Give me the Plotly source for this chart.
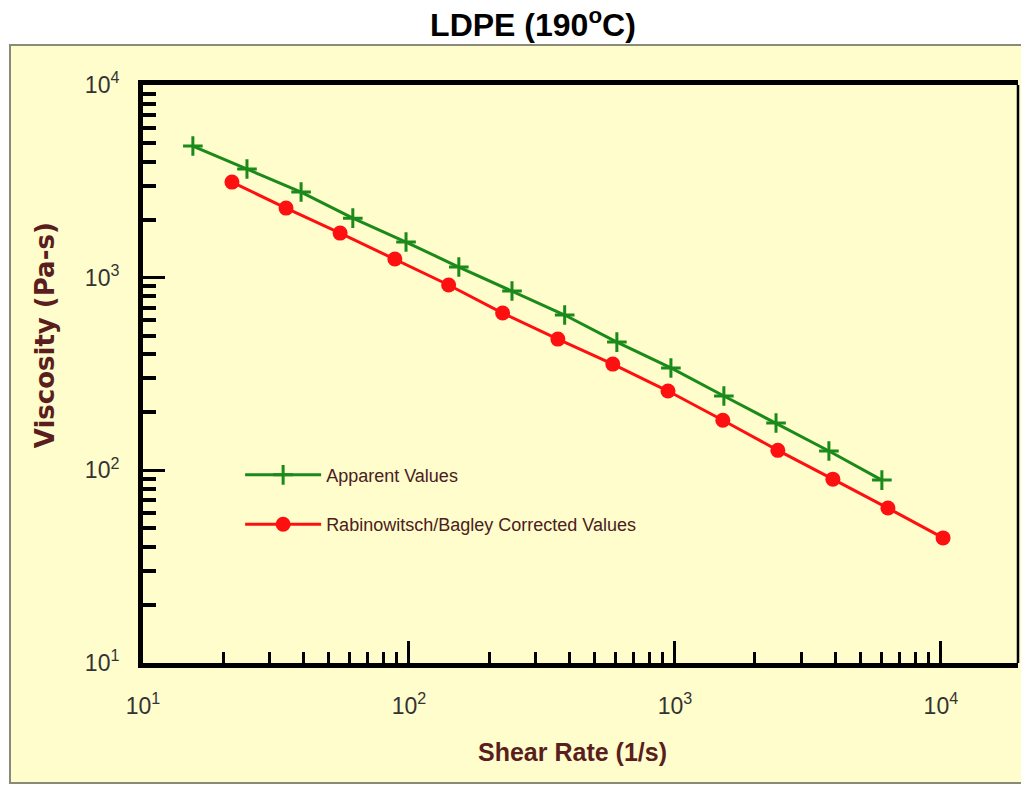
import plotly.graph_objects as go

# Data
shear_apparent = [15.4, 24.6, 39.3, 61.5, 97.5, 154, 244, 385, 605, 966, 1528, 2400, 3793, 6000]
visc_apparent = [4820, 3664, 2782, 2037, 1531, 1135, 852, 640, 463, 340, 243, 176, 126, 89]

shear_corrected = [21.6, 34.5, 55.1, 88.5, 141, 225, 363, 584, 942, 1514, 2438, 3926, 6324, 10190]
visc_corrected = [3133, 2296, 1703, 1249, 916, 655, 480, 356, 258, 182, 127, 90, 63.7, 44.6]

major_vals = [10, 100, 1000, 10000]
major_text = ["10<sup>1</sup>", "10<sup>2</sup>", "10<sup>3</sup>", "10<sup>4</sup>"]
minor_vals = [m * 10 ** k for k in range(1, 4) for m in range(2, 10)]

series_names = ["Apparent Values", "Rabinowitsch/Bagley Corrected Values"]

PANEL = "#FFFDCC"
ARIAL = "Liberation Sans, Arial, sans-serif"
MAROON = "#5a1e1e"

fig = go.Figure()
fig.add_trace(go.Scatter(
    x=shear_apparent, y=visc_apparent, mode="lines+markers", name=series_names[0],
    legendgroup="a",
    line=dict(color="#1a8a1a", width=3),
    marker=dict(symbol="cross-thin", size=14, line=dict(color="#1a8a1a", width=3)),
))
fig.add_trace(go.Scatter(
    x=shear_corrected, y=visc_corrected, mode="lines+markers", name=series_names[1],
    legendgroup="b",
    line=dict(color="#ff1010", width=3),
    marker=dict(symbol="circle", size=15, color="#ff1010"),
))

axis_common = dict(
    type="log", showgrid=False, zeroline=False,
    showline=True, linecolor="black", linewidth=5,
    ticks="inside", tickcolor="black", tickwidth=3, ticklen=22,
    tickmode="array", tickvals=major_vals, ticktext=major_text,
    tickfont=dict(family=ARIAL, size=23, color="#333333"),
    minor=dict(ticks="inside", tickmode="array", tickvals=minor_vals,
               ticklen=11, tickwidth=3, tickcolor="black", showgrid=False),
)

fig.update_layout(
    width=1021, height=786,
    margin=dict(l=143, r=3, t=85, b=123),
    paper_bgcolor="white", plot_bgcolor=PANEL,
    title=dict(text="LDPE (190<sup>o</sup>C)", x=0.522, xanchor="center",
               y=0.968, yanchor="middle",
               font=dict(family=ARIAL, size=32, color="black", weight="bold")),
    xaxis=dict(axis_common, range=[1, 4.29], mirror=True, ticklabelstandoff=18),
    yaxis=dict(axis_common, range=[1, 4], mirror=False, ticklabelstandoff=14),
    showlegend=True,
    legend=dict(x=0.111, y=0.357, xanchor="left", yanchor="top",
                bgcolor="rgba(0,0,0,0)", traceorder="grouped", tracegroupgap=23,
                itemwidth=76,
                font=dict(family=ARIAL, size=18, color="#4a2020")),
)
fig.update_yaxes(minor=dict(ticklen=13, tickwidth=4))

# Yellow panel behind the chart
fig.add_shape(type="rect", xref="paper", yref="paper",
              x0=-0.152, x1=1.05, y0=-0.2076, y1=1.069,
              fillcolor=PANEL, line=dict(color="#8a8a7a", width=2), layer="below")
# Thin right frame
fig.add_shape(type="line", xref="paper", yref="paper", x0=1, x1=1, y0=0, y1=1,
              line=dict(color="black", width=2.5))

fig.add_annotation(text="<b>Shear Rate (1/s)</b>", xref="paper", yref="paper",
                   x=0.491, y=-0.154, xanchor="center", yanchor="middle", showarrow=False,
                   font=dict(family=ARIAL, size=25, color=MAROON))
fig.add_annotation(text="<b>Viscosity (Pa-s)</b>", xref="paper", yref="paper",
                   x=-0.112, y=0.567, xanchor="center", yanchor="middle",
                   showarrow=False, textangle=-90,
                   font=dict(family="DejaVu Sans, sans-serif", size=26, color=MAROON))

fig.write_html("out.html", config={"displayModeBar": False},
               post_script="document.body.style.margin='0px';")
